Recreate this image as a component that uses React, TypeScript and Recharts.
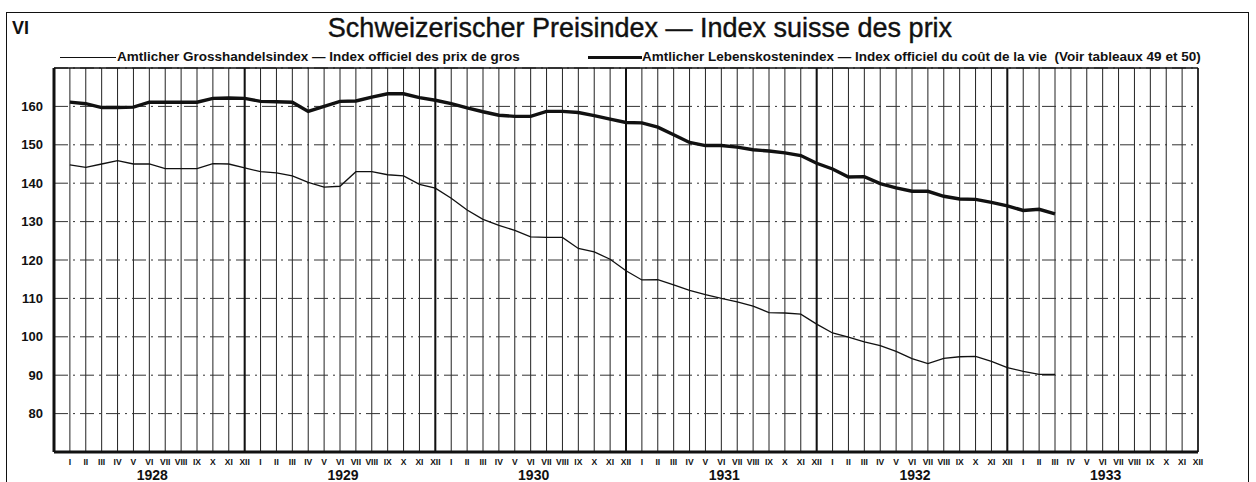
import { CartesianGrid, Line, LineChart, ReferenceLine, XAxis, YAxis } from "recharts";

// month numerals and years along the bottom axis
const monthNumerals = ["I", "II", "III", "IV", "V", "VI", "VII", "VIII", "IX", "X", "XI", "XII"];
const years = ["1928", "1929", "1930", "1931", "1932", "1933"];
const yTicks = [80, 90, 100, 110, 120, 130, 140, 150, 160];

// Amtlicher Grosshandelsindex (thin line), Jan 1928 .. Mar 1933
const grossValues = [
  144.8, 144.1, 145.0, 145.9, 145.0, 145.0, 143.8, 143.8, 143.8, 145.1, 145.0, 144.0,
  143.0, 142.7, 141.9, 140.2, 139.0, 139.2, 143.0, 143.0, 142.2, 141.9, 139.7, 138.7,
  136.1, 133.0, 130.6, 129.0, 127.7, 126.0, 125.9, 125.9, 123.0, 122.1, 120.2, 117.2,
  114.8, 114.9, 113.5, 112.1, 111.0, 110.0, 109.1, 108.0, 106.3, 106.2, 105.9, 103.3,
  101.0, 99.9, 98.7, 97.7, 96.2, 94.3, 93.0, 94.4, 94.8, 94.9, 93.6, 92.0,
  91.0, 90.2, 90.2,
];

// Amtlicher Lebenskostenindex (thick line), Jan 1928 .. Mar 1933
const costValues = [
  161.1, 160.7, 159.7, 159.7, 159.8, 161.1, 161.1, 161.1, 161.1, 162.1, 162.2, 162.1,
  161.3, 161.2, 161.1, 158.7, 160.0, 161.3, 161.4, 162.4, 163.3, 163.3, 162.3, 161.6,
  160.7, 159.6, 158.6, 157.7, 157.4, 157.4, 158.7, 158.7, 158.4, 157.6, 156.7, 155.8,
  155.7, 154.6, 152.6, 150.6, 149.8, 149.8, 149.4, 148.7, 148.4, 147.9, 147.2, 145.2,
  143.7, 141.6, 141.7, 139.9, 138.8, 137.9, 137.9, 136.6, 135.9, 135.8, 135.0, 134.1,
  132.9, 133.2, 132.0,
];

const monthTicks = years.flatMap((_, yi) => monthNumerals.map((_, mi) => yi * 12 + mi + 1));
const yearEnds = [12, 24, 36, 48, 60];

const data = grossValues.map((g, i) => ({ m: i + 1, gross: g, cost: costValues[i] }));

const FONT = "'Liberation Sans', Arial, sans-serif";
const INK = "#111";

function MonthTick(props: any) {
  const { x, y, payload } = props;
  const n = payload.value as number;
  const mi = (n - 1) % 12;
  const yi = Math.floor((n - 1) / 12);
  return (
    <g fontFamily={FONT} fill={INK}>
      <text x={x} y={y + 11} textAnchor="middle" fontSize={8.5} fontWeight="bold">
        {monthNumerals[mi]}
      </text>
      {mi === 5 && (
        <text x={x + 3} y={y + 26} textAnchor="middle" fontSize={14} fontWeight="bold">
          {years[yi]}
        </text>
      )}
    </g>
  );
}

export default function App() {
  return (
    <div style={{ position: "absolute", left: 0, top: 0, width: 1256, height: 482, overflow: "hidden", background: "#fff", fontFamily: FONT, color: INK }}>
      {/* outer frame, open at the bottom */}
      <div style={{ position: "absolute", left: 6, top: 12, width: 1243, height: 480, borderTop: `1.5px solid ${INK}`, borderLeft: `1.5px solid ${INK}`, borderRight: `1.5px solid ${INK}`, boxSizing: "border-box" }} />
      <div style={{ position: "absolute", left: 12, top: 18, fontSize: 18, fontWeight: "bold" }}>VI</div>
      <div style={{ position: "absolute", left: 0, width: 1280, top: 13, textAlign: "center", fontSize: 27, WebkitTextStroke: "0.4px #111" }}>
        Schweizerischer Preisindex — Index suisse des prix
      </div>

      {/* legend */}
      <div style={{ position: "absolute", left: 60, top: 57, width: 56, height: 0, borderTop: `1.3px solid ${INK}` }} />
      <div style={{ position: "absolute", left: 117, top: 49, fontSize: 13.5, fontWeight: "bold", whiteSpace: "nowrap" }}>
        Amtlicher Grosshandelsindex — Index officiel des prix de gros
      </div>
      <div style={{ position: "absolute", left: 588, top: 56, width: 54, height: 0, borderTop: `3.5px solid ${INK}` }} />
      <div style={{ position: "absolute", left: 642, top: 49, fontSize: 13.5, fontWeight: "bold", whiteSpace: "nowrap" }}>
        Amtlicher Lebenskostenindex — Index officiel du coût de la vie&nbsp;&nbsp;(Voir tableaux 49 et 50)
      </div>

      <div style={{ position: "absolute", left: 0, top: 0 }}>
        <LineChart width={1256} height={482} data={data} margin={{ top: 68, right: 8, bottom: 0, left: 14 }}>
          <CartesianGrid yAxisId="left" horizontal={false} stroke="#222" strokeWidth={1} />
          <CartesianGrid yAxisId="left" vertical={false} stroke="#333" strokeWidth={1} strokeDasharray="14 5 2 5" />
          <XAxis
            dataKey="m"
            type="number"
            domain={[0, 72]}
            ticks={monthTicks}
            interval={0}
            height={30}
            tickSize={0}
            tickLine={false}
            axisLine={{ stroke: INK, strokeWidth: 3 }}
            tick={<MonthTick />}
          />
          <YAxis
            yAxisId="left"
            domain={[70, 170]}
            ticks={yTicks}
            width={40}
            tickSize={0}
            tickMargin={11}
            tickLine={false}
            axisLine={{ stroke: INK, strokeWidth: 3 }}
            tick={{ fill: INK, fontSize: 13, fontWeight: "bold", fontFamily: FONT }}
          />
          <YAxis
            yAxisId="right"
            orientation="right"
            domain={[70, 170]}
            ticks={yTicks}
            width={50}
            tickSize={0}
            tickMargin={9}
            tickLine={false}
            axisLine={{ stroke: INK, strokeWidth: 1.5 }}
            tick={{ fill: INK, fontSize: 13, fontWeight: "bold", fontFamily: FONT, textAnchor: "start" }}
          />
          <ReferenceLine yAxisId="left" y={170} stroke={INK} strokeWidth={1.5} />
          {yearEnds.map((x) => (
            <ReferenceLine key={x} yAxisId="left" x={x} stroke={INK} strokeWidth={2} />
          ))}
          <Line yAxisId="left" type="linear" dataKey="gross" stroke={INK} strokeWidth={1.3} dot={false} isAnimationActive={false} />
          <Line yAxisId="left" type="linear" dataKey="cost" stroke={INK} strokeWidth={3.4} dot={false} isAnimationActive={false} />
        </LineChart>
      </div>
    </div>
  );
}
